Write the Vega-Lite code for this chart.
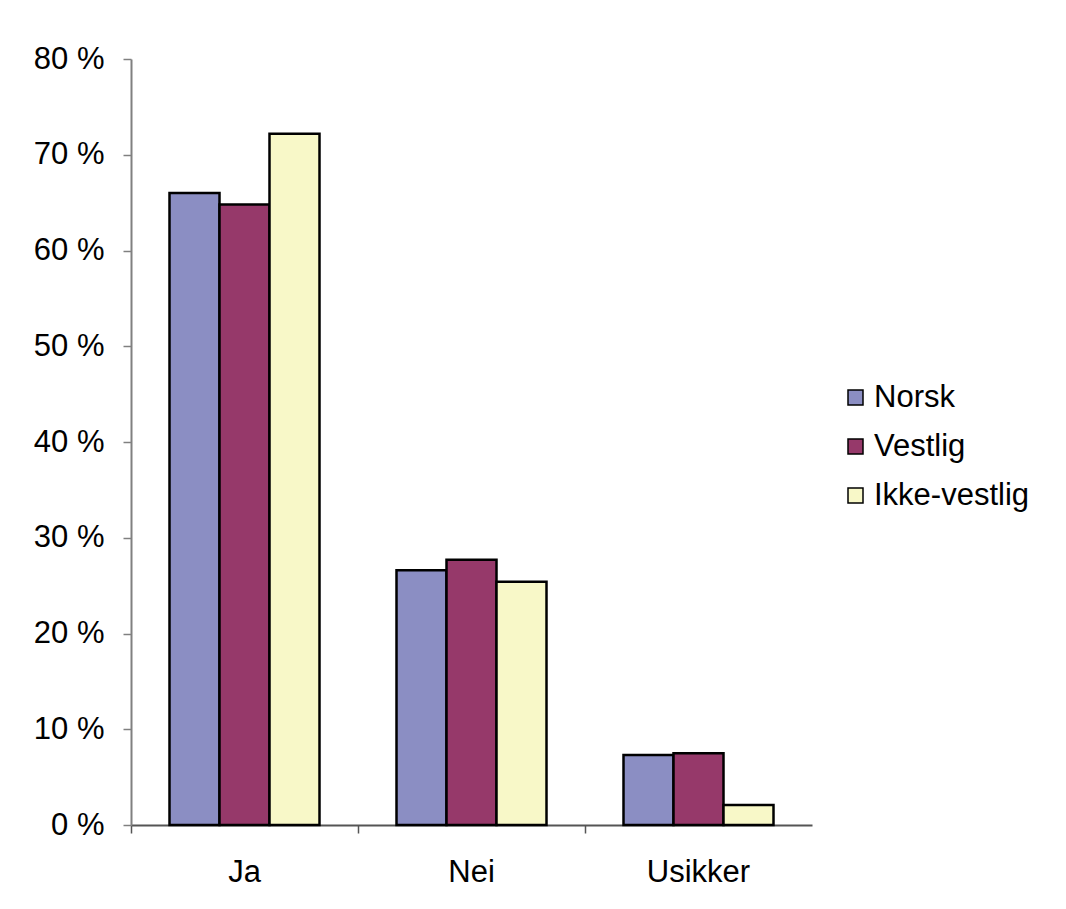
{
  "$schema": "https://vega.github.io/schema/vega-lite/v6.json",
  "autosize": {"type": "none"},
  "width": 681,
  "height": 766,
  "padding": {"left": 131, "top": 59, "right": 254, "bottom": 84},
  "background": "white",
  "config": {
    "view": {"stroke": null},
    "font": "Liberation Sans",
    "axis": {"labelFont": "Liberation Sans", "labelColor": "black", "grid": false}
  },
  "data": {
    "values": [
      {"svar": "Ja", "gruppe": "Norsk", "andel": 66.0},
      {"svar": "Ja", "gruppe": "Vestlig", "andel": 64.8},
      {"svar": "Ja", "gruppe": "Ikke-vestlig", "andel": 72.2},
      {"svar": "Nei", "gruppe": "Norsk", "andel": 26.6},
      {"svar": "Nei", "gruppe": "Vestlig", "andel": 27.7},
      {"svar": "Nei", "gruppe": "Ikke-vestlig", "andel": 25.4},
      {"svar": "Usikker", "gruppe": "Norsk", "andel": 7.3},
      {"svar": "Usikker", "gruppe": "Vestlig", "andel": 7.5},
      {"svar": "Usikker", "gruppe": "Ikke-vestlig", "andel": 2.1}
    ]
  },
  "mark": {"type": "bar", "stroke": "black", "strokeWidth": 2.5},
  "encoding": {
    "x": {
      "field": "svar",
      "type": "nominal",
      "sort": ["Ja", "Nei", "Usikker"],
      "scale": {"paddingInner": 0, "paddingOuter": 0},
      "axis": {
        "title": null,
        "labelAngle": 0,
        "labelFontSize": 31,
        "labelPadding": 24,
        "bandPosition": 0,
        "tickSize": 8,
        "tickWidth": 1.5,
        "tickColor": "#555555",
        "domainColor": "#555555",
        "domainWidth": 2
      }
    },
    "xOffset": {
      "field": "gruppe",
      "type": "nominal",
      "sort": ["Norsk", "Vestlig", "Ikke-vestlig"],
      "scale": {"paddingInner": 0, "paddingOuter": 0.77}
    },
    "y": {
      "field": "andel",
      "type": "quantitative",
      "scale": {"domain": [0, 80], "nice": false},
      "axis": {
        "title": null,
        "values": [0, 10, 20, 30, 40, 50, 60, 70, 80],
        "labelExpr": "datum.value + ' %'",
        "labelFontSize": 31,
        "labelPadding": 19,
        "tickSize": 8,
        "tickWidth": 1.5,
        "tickColor": "#808080",
        "domainColor": "#808080",
        "domainWidth": 2
      }
    },
    "fill": {
      "field": "gruppe",
      "type": "nominal",
      "sort": ["Norsk", "Vestlig", "Ikke-vestlig"],
      "scale": {"domain": ["Norsk", "Vestlig", "Ikke-vestlig"], "range": ["#8b8ec3", "#96396a", "#f8f8c8"]},
      "legend": {
        "title": null,
        "orient": "none",
        "legendX": 709,
        "legendY": 323,
        "symbolType": "square",
        "symbolSize": 225,
        "symbolStrokeColor": "black",
        "symbolStrokeWidth": 1.5,
        "labelFontSize": 31,
        "labelFont": "Liberation Sans",
        "labelColor": "black",
        "rowPadding": 17,
        "labelOffset": 3
      }
    }
  }
}
